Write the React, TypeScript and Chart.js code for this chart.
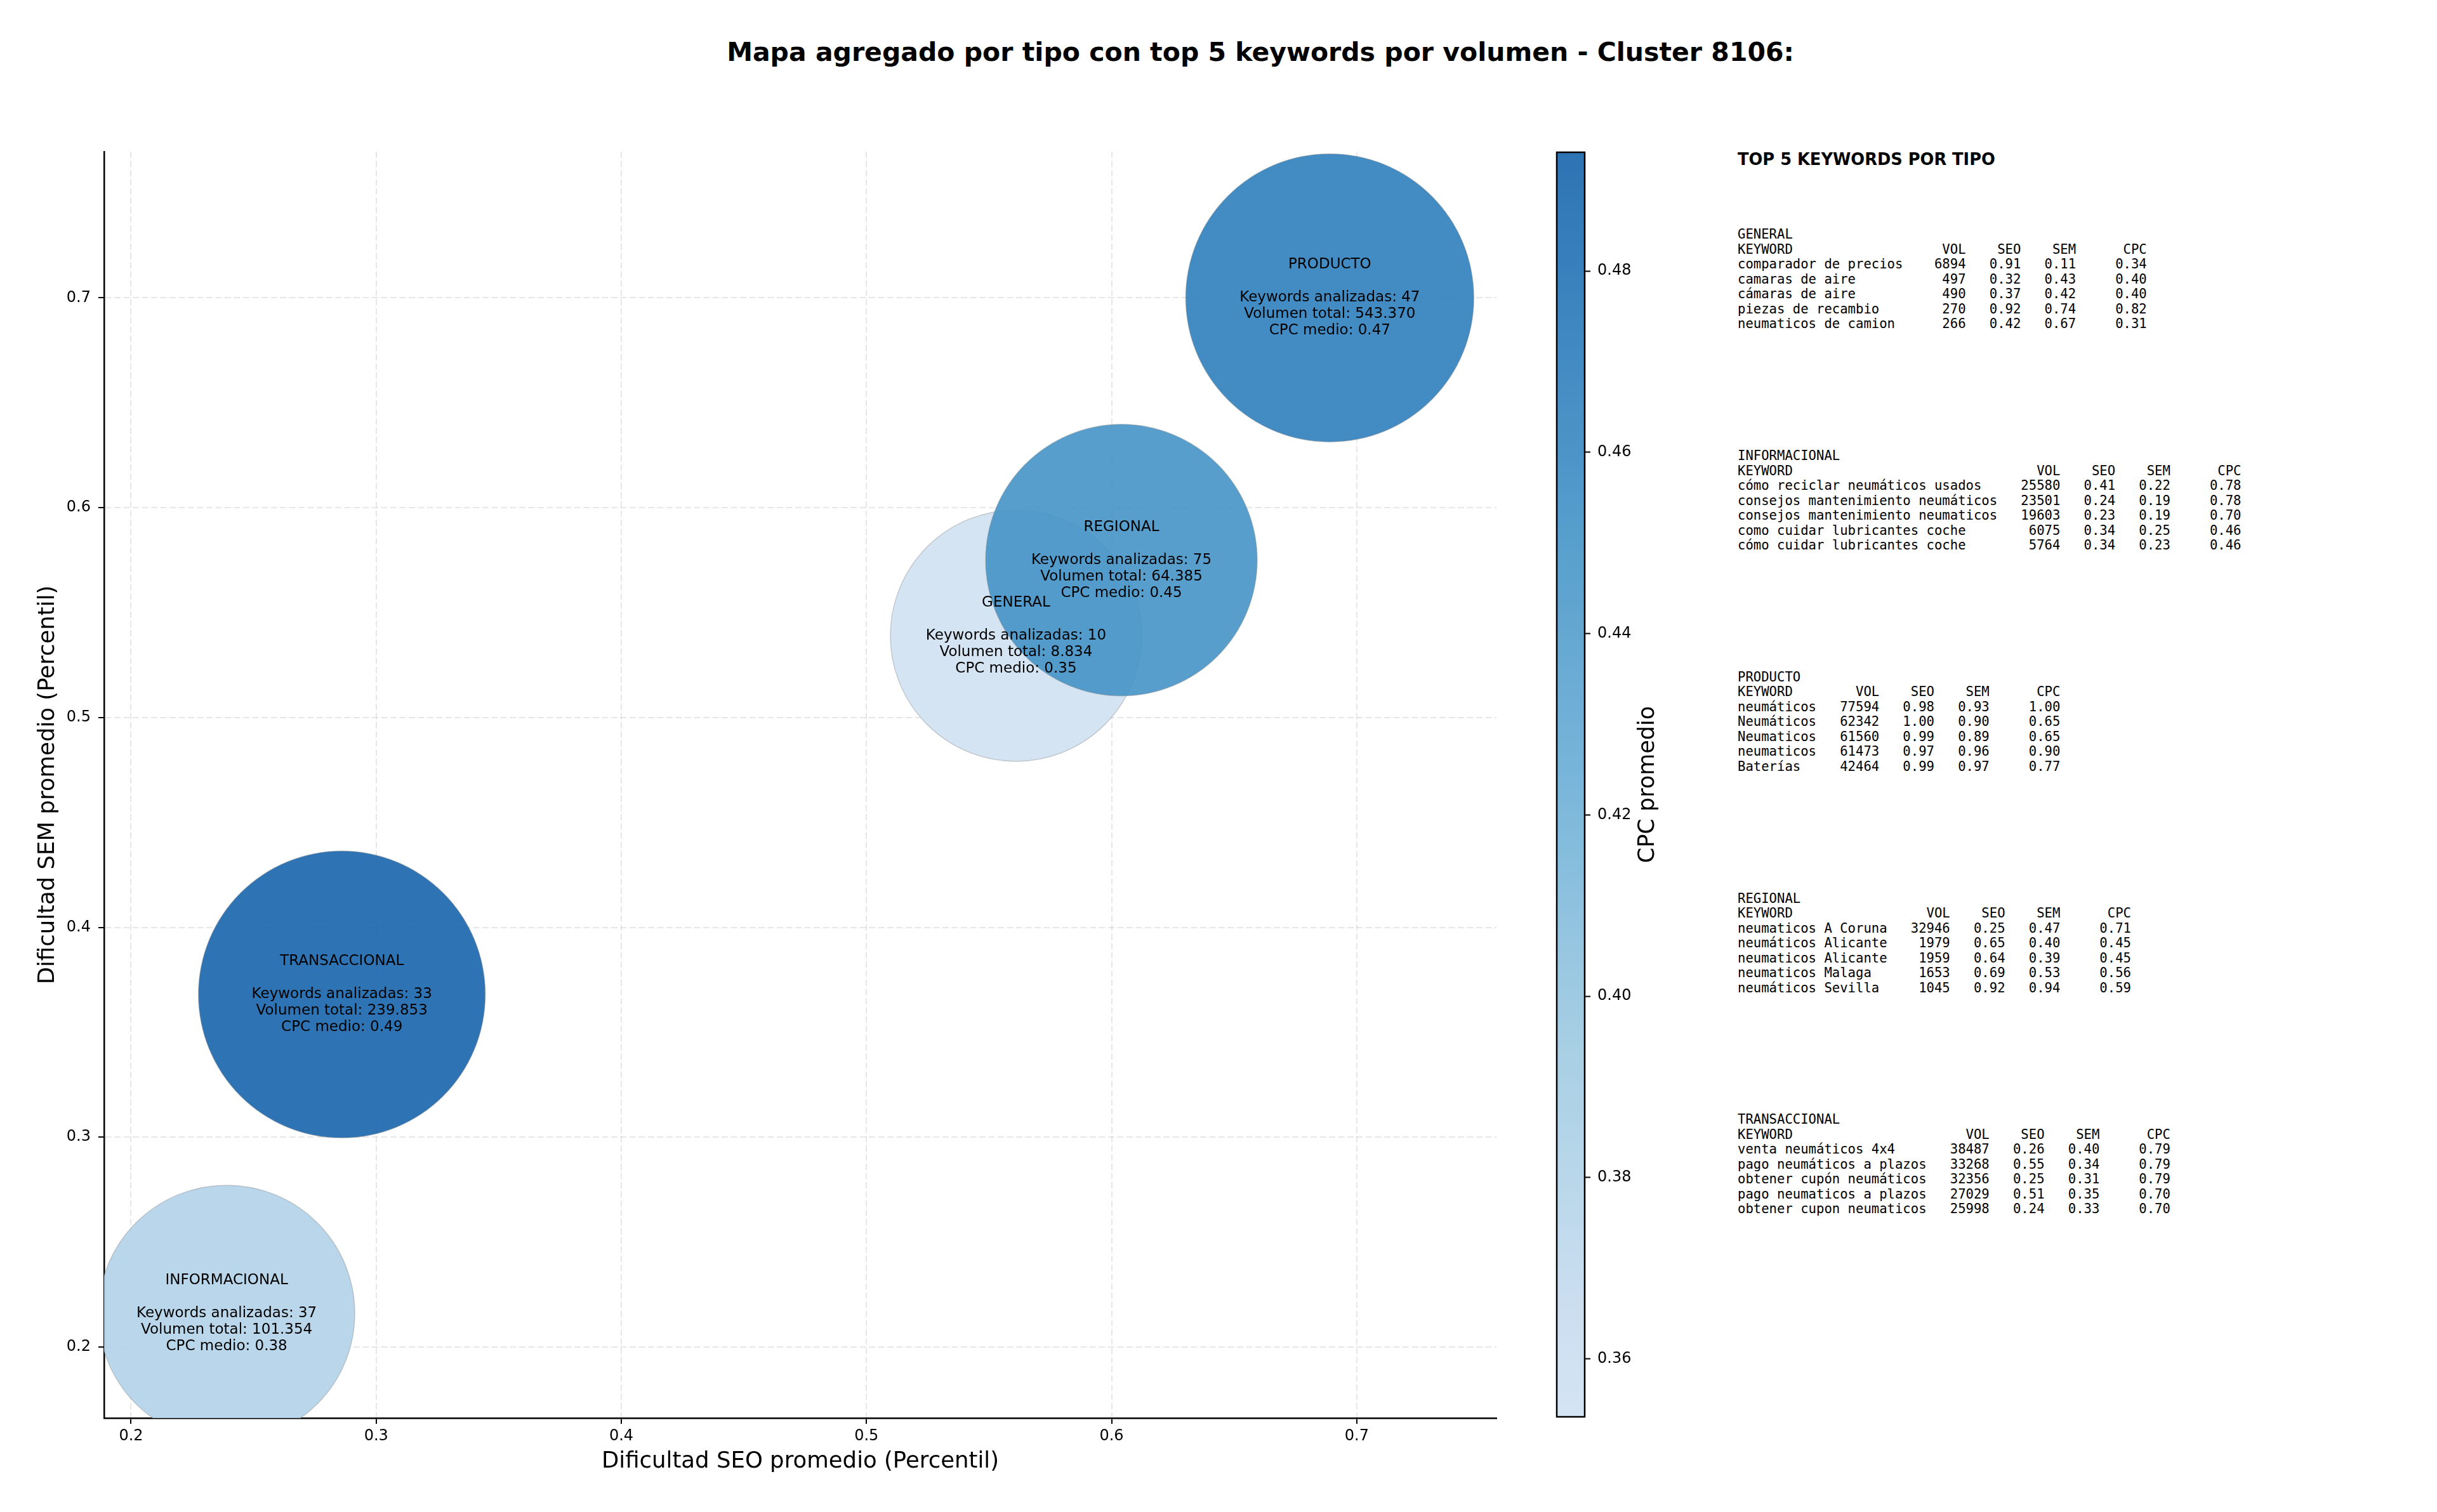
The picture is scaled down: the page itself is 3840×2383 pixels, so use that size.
import { useEffect, useRef } from 'react'
import { Chart, registerables } from 'chart.js'

Chart.register(...registerables)

// aggregated values per keyword type
const tipos = ['GENERAL', 'INFORMACIONAL', 'PRODUCTO', 'REGIONAL', 'TRANSACCIONAL']
const seoPromedio = [0.561, 0.239, 0.689, 0.604, 0.286]
const semPromedio = [0.539, 0.216, 0.7, 0.575, 0.368]
const cpcPromedio = [0.3536, 0.38, 0.47, 0.45, 0.4931]
const keywordsAnalizadas = [10, 37, 47, 75, 33]
const volumenTotal = [8834, 101354, 543370, 64385, 239853]

// axis ranges
const seoRange = [0.189, 0.757]
const semRange = [0.1661, 0.7697]

// top 5 keywords per type: keyword, vol, seo, sem, cpc
type Row = [string, number, number, number, number]
const topGeneral: Row[] = [
  ['comparador de precios', 6894, 0.91, 0.11, 0.34],
  ['camaras de aire', 497, 0.32, 0.43, 0.4],
  ['cámaras de aire', 490, 0.37, 0.42, 0.4],
  ['piezas de recambio', 270, 0.92, 0.74, 0.82],
  ['neumaticos de camion', 266, 0.42, 0.67, 0.31],
]
const topInformacional: Row[] = [
  ['cómo reciclar neumáticos usados', 25580, 0.41, 0.22, 0.78],
  ['consejos mantenimiento neumáticos', 23501, 0.24, 0.19, 0.78],
  ['consejos mantenimiento neumaticos', 19603, 0.23, 0.19, 0.7],
  ['como cuidar lubricantes coche', 6075, 0.34, 0.25, 0.46],
  ['cómo cuidar lubricantes coche', 5764, 0.34, 0.23, 0.46],
]
const topProducto: Row[] = [
  ['neumáticos', 77594, 0.98, 0.93, 1.0],
  ['Neumáticos', 62342, 1.0, 0.9, 0.65],
  ['Neumaticos', 61560, 0.99, 0.89, 0.65],
  ['neumaticos', 61473, 0.97, 0.96, 0.9],
  ['Baterías', 42464, 0.99, 0.97, 0.77],
]
const topRegional: Row[] = [
  ['neumaticos A Coruna', 32946, 0.25, 0.47, 0.71],
  ['neumáticos Alicante', 1979, 0.65, 0.4, 0.45],
  ['neumaticos Alicante', 1959, 0.64, 0.39, 0.45],
  ['neumaticos Malaga', 1653, 0.69, 0.53, 0.56],
  ['neumáticos Sevilla', 1045, 0.92, 0.94, 0.59],
]
const topTransaccional: Row[] = [
  ['venta neumáticos 4x4', 38487, 0.26, 0.4, 0.79],
  ['pago neumáticos a plazos', 33268, 0.55, 0.34, 0.79],
  ['obtener cupón neumáticos', 32356, 0.25, 0.31, 0.79],
  ['pago neumaticos a plazos', 27029, 0.51, 0.35, 0.7],
  ['obtener cupon neumaticos', 25998, 0.24, 0.33, 0.7],
]
const topPorTipo = [topGeneral, topInformacional, topProducto, topRegional, topTransaccional]

// styling
const SANS = "'DejaVu Sans', sans-serif"
const MONO = "'DejaVu Sans Mono', monospace"
const BUBBLE_RADIUS = [198, 202, 227, 214, 226]
const GRID = 'rgba(176,176,176,0.3)'
const BLUES = ['#f7fbff', '#deebf7', '#c6dbef', '#9ecae1', '#6baed6', '#4292c6', '#2171b5', '#08519c', '#08306b']

const cpcMin = Math.min(...cpcPromedio)
const cpcMax = Math.max(...cpcPromedio)

function hexRgb(h: string) {
  return [1, 3, 5].map((i) => parseInt(h.slice(i, i + 2), 16))
}

// Blues colormap, cut to 0.2..0.8, alpha 0.9
function cmap(n: number, alpha = 0.9) {
  const t = 0.2 + 0.6 * Math.max(0, Math.min(1, n))
  const p = t * 8
  const i = Math.min(7, Math.floor(p))
  const f = p - i
  const a = hexRgb(BLUES[i])
  const b = hexRgb(BLUES[i + 1])
  const c = a.map((v, k) => Math.round(v + (b[k] - v) * f))
  return `rgba(${c[0]},${c[1]},${c[2]},${alpha})`
}

const cpcColor = (v: number) => cmap((v - cpcMin) / (cpcMax - cpcMin))

function fmtMiles(v: number) {
  return Math.round(v).toString().replace(/\B(?=(\d{3})+(?!\d))/g, '.')
}

function sectionText(name: string, rows: Row[]) {
  const w = Math.max(...rows.map((r) => r[0].length))
  const head = 'KEYWORD'.padEnd(w) + 'VOL'.padStart(8) + 'SEO'.padStart(7) + 'SEM'.padStart(7) + 'CPC'.padStart(9)
  const lines = rows.map(
    ([kw, vol, seo, sem, cpc]) =>
      kw.padEnd(w) +
      String(vol).padStart(8) +
      seo.toFixed(2).padStart(7) +
      sem.toFixed(2).padStart(7) +
      cpc.toFixed(2).padStart(9)
  )
  return [name, head, ...lines].join('\n')
}

const bubbleLabels = {
  id: 'bubbleLabels',
  afterDatasetsDraw(chart: Chart) {
    const ctx = chart.ctx
    const meta = chart.getDatasetMeta(0)
    ctx.save()
    ctx.font = `23px ${SANS}`
    ctx.fillStyle = '#000'
    ctx.textAlign = 'center'
    ctx.textBaseline = 'middle'
    meta.data.forEach((el: any, i: number) => {
      const lines = [
        tipos[i],
        '',
        `Keywords analizadas: ${keywordsAnalizadas[i]}`,
        `Volumen total: ${fmtMiles(volumenTotal[i])}`,
        `CPC medio: ${cpcPromedio[i].toFixed(2)}`,
      ]
      lines.forEach((l, j) => ctx.fillText(l, el.x, el.y + (j - 2) * 26))
    })
    ctx.restore()
  },
}

const colorbarFill = {
  id: 'colorbarFill',
  beforeDatasetsDraw(chart: Chart) {
    const { ctx, chartArea } = chart
    const { left, right, top, bottom } = chartArea
    const g = ctx.createLinearGradient(0, bottom, 0, top)
    for (let i = 0; i <= 24; i++) g.addColorStop(i / 24, cmap(i / 24))
    ctx.save()
    ctx.fillStyle = g
    ctx.fillRect(left, top, right - left, bottom - top)
    ctx.lineWidth = 2.5
    ctx.strokeStyle = '#000'
    ctx.strokeRect(left, top, right - left, bottom - top)
    ctx.translate(157, (top + bottom) / 2)
    ctx.rotate(-Math.PI / 2)
    ctx.font = `35px ${SANS}`
    ctx.fillStyle = '#000'
    ctx.textAlign = 'center'
    ctx.textBaseline = 'middle'
    ctx.fillText('CPC promedio', 0, 0)
    ctx.restore()
  },
}

export default function App() {
  const mainRef = useRef<HTMLCanvasElement>(null)
  const barRef = useRef<HTMLCanvasElement>(null)

  useEffect(() => {
    if (!mainRef.current || !barRef.current) return
    const tickFont = { family: SANS, size: 24 }
    const titleFont = { family: SANS, size: 35.5 }

    const main = new Chart(mainRef.current, {
      type: 'bubble',
      data: {
        datasets: [
          {
            data: tipos.map((_, i) => ({ x: seoPromedio[i], y: semPromedio[i], r: BUBBLE_RADIUS[i] })),
            backgroundColor: cpcPromedio.map(cpcColor),
            borderColor: 'rgba(128,128,128,0.35)',
            borderWidth: 1.5,
            clip: 0,
          },
        ],
      },
      options: {
        animation: false,
        responsive: false,
        events: [],
        layout: { autoPadding: false, padding: { left: 0, top: 239, right: 42, bottom: 0 } },
        plugins: { legend: { display: false }, tooltip: { enabled: false } },
        scales: {
          x: {
            type: 'linear',
            min: seoRange[0],
            max: seoRange[1],
            afterFit: (s: any) => {
              s.height = 148
            },
            ticks: {
              stepSize: 0.1,
              includeBounds: false,
              autoSkip: false,
              maxRotation: 0,
              padding: 5,
              color: '#000',
              font: tickFont,
              callback: (v: any) => Number(v).toFixed(1),
            },
            grid: { color: GRID, lineWidth: 2, tickLength: 9, tickColor: '#000', tickWidth: 2 },
            border: { color: '#000', width: 2.5, dash: [10, 4.5] },
            title: {
              display: true,
              text: 'Dificultad SEO promedio (Percentil)',
              color: '#000',
              font: titleFont,
              padding: { top: 0, bottom: 58 },
            },
          },
          y: {
            type: 'linear',
            min: semRange[0],
            max: semRange[1],
            afterFit: (s: any) => {
              s.width = 164
            },
            ticks: {
              stepSize: 0.1,
              includeBounds: false,
              autoSkip: false,
              padding: 12,
              color: '#000',
              font: tickFont,
              callback: (v: any) => Number(v).toFixed(1),
            },
            grid: { color: GRID, lineWidth: 2, tickLength: 9, tickColor: '#000', tickWidth: 2 },
            border: { color: '#000', width: 2.5, dash: [10, 4.5] },
            title: {
              display: true,
              text: 'Dificultad SEM promedio (Percentil)',
              color: '#000',
              font: titleFont,
              padding: { top: 54, bottom: 0 },
            },
          },
        },
      },
      plugins: [bubbleLabels],
    } as any)

    const bar = new Chart(barRef.current, {
      type: 'scatter',
      data: { datasets: [{ data: [] }] },
      options: {
        animation: false,
        responsive: false,
        events: [],
        layout: { autoPadding: false, padding: { left: 13, top: 240, right: 0, bottom: 150 } },
        plugins: { legend: { display: false }, tooltip: { enabled: false } },
        scales: {
          x: { display: false, min: 0, max: 1 },
          y: {
            position: 'right',
            min: cpcMin,
            max: cpcMax,
            afterFit: (s: any) => {
              s.width = 223
            },
            ticks: {
              stepSize: 0.02,
              includeBounds: false,
              autoSkip: false,
              padding: 11,
              color: '#000',
              font: tickFont,
              callback: (v: any) => Number(v).toFixed(2),
            },
            grid: { drawOnChartArea: false, tickLength: 9, tickColor: '#000', tickWidth: 2 },
            border: { display: false },
          },
        },
      },
      plugins: [colorbarFill],
    } as any)

    return () => {
      main.destroy()
      bar.destroy()
    }
  }, [])

  const sectionTop = (i: number) => 370 + i * 348.75 - 11.75

  return (
    <div style={{ position: 'absolute', left: 0, top: 0, width: 3840, height: 2383, background: '#fff', overflow: 'hidden' }}>
      <div
        style={{
          position: 'absolute',
          left: 1986,
          top: 62,
          transform: 'translateX(-50%)',
          whiteSpace: 'nowrap',
          fontFamily: SANS,
          fontWeight: 'bold',
          fontSize: 41,
          lineHeight: '41px',
          color: '#000',
        }}
      >
        Mapa agregado por tipo con top 5 keywords por volumen - Cluster 8106:
      </div>
      <canvas
        ref={mainRef}
        width={2400}
        height={2383}
        style={{ position: 'absolute', left: 0, top: 0, width: 2400, height: 2383 }}
      />
      <canvas
        ref={barRef}
        width={280}
        height={2383}
        style={{ position: 'absolute', left: 2440, top: 0, width: 280, height: 2383 }}
      />
      <div
        style={{
          position: 'absolute',
          left: 2738,
          top: 239,
          fontFamily: SANS,
          fontWeight: 'bold',
          fontSize: 25.7,
          lineHeight: '25.7px',
          whiteSpace: 'nowrap',
          color: '#000',
        }}
      >
        TOP 5 KEYWORDS POR TIPO
      </div>
      {tipos.map((t, i) => (
        <pre
          key={t}
          style={{
            position: 'absolute',
            left: 2738,
            top: sectionTop(i),
            margin: 0,
            fontFamily: MONO,
            fontSize: 20.6,
            lineHeight: '23.5px',
            color: '#000',
          }}
        >
          {sectionText(t, topPorTipo[i])}
        </pre>
      ))}
    </div>
  )
}
